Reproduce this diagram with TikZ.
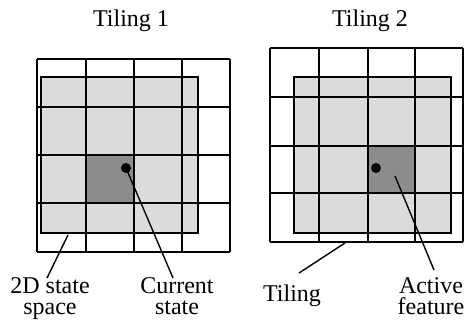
\documentclass[tikz,border=0pt]{standalone}
\usepackage{fontspec}
\setmainfont{Liberation Serif}
\definecolor{lightfill}{HTML}{DCDCDC}
\definecolor{darkfill}{HTML}{8C8C8C}
\begin{document}
\begin{tikzpicture}[x=1pt,y=-1pt,
  gridline/.style={line width=1.4pt,black},
  spacebox/.style={line width=2.8pt,black},
  lbl/.style={font=\fontsize{24}{21}\selectfont,align=center,inner sep=0pt},
  conn/.style={line width=1.4pt,black},
  statedot/.style={circle,fill=black,inner sep=0pt,minimum size=10pt}]
\useasboundingbox (0,0) rectangle (464,321);
% Titles
\node[lbl,anchor=base] (t1) at (131,27) {Tiling 1};
\node[lbl,anchor=base] (t2) at (370,27) {Tiling 2};
% ---- Tiling 1 ----
\fill[lightfill] (41,77) rectangle (198,233);
\fill[darkfill] (86,155) rectangle (134,203);
\foreach \x in {37,86,134,182,230} \draw[gridline] (\x,59) -- (\x,252);
\foreach \y in {59,107,155,203,252} \draw[gridline] (37,\y) -- (230,\y);
\draw[spacebox] (41,77) rectangle (198,233);
\node[statedot] (s1) at (126,168) {};
\coordinate (e1) at (173,278);
\coordinate (b1) at (68,235);
\coordinate (e2) at (47,278);
\draw[conn] (s1.center) -- (e1);
\draw[conn] (b1) -- (e2);
\node[lbl,anchor=north] (l1) at (50,277) {2D state\\space};
\node[lbl,anchor=north] (l2) at (177,277) {Current\\state};
% ---- Tiling 2 ----
\fill[lightfill] (294,77) rectangle (451,233);
\fill[darkfill] (368,146) rectangle (415,193);
\foreach \x in {270,319,368,415,463} \draw[gridline] (\x,48) -- (\x,242);
\foreach \y in {48,97,146,193,242} \draw[gridline] (270,\y) -- (463,\y);
\draw[spacebox] (294,77) rectangle (451,233);
\node[statedot] (s2) at (376,168) {};
\coordinate (a1) at (395,176);
\coordinate (a2) at (434,270);
\coordinate (g1) at (345,243);
\coordinate (g2) at (299,273);
\draw[conn] (a1) -- (a2);
\draw[conn] (g1) -- (g2);
\node[lbl,anchor=base] (l3) at (292,301) {Tiling};
\node[lbl,anchor=north] (l4) at (431,277) {Active\\feature};
\end{tikzpicture}
\end{document}
